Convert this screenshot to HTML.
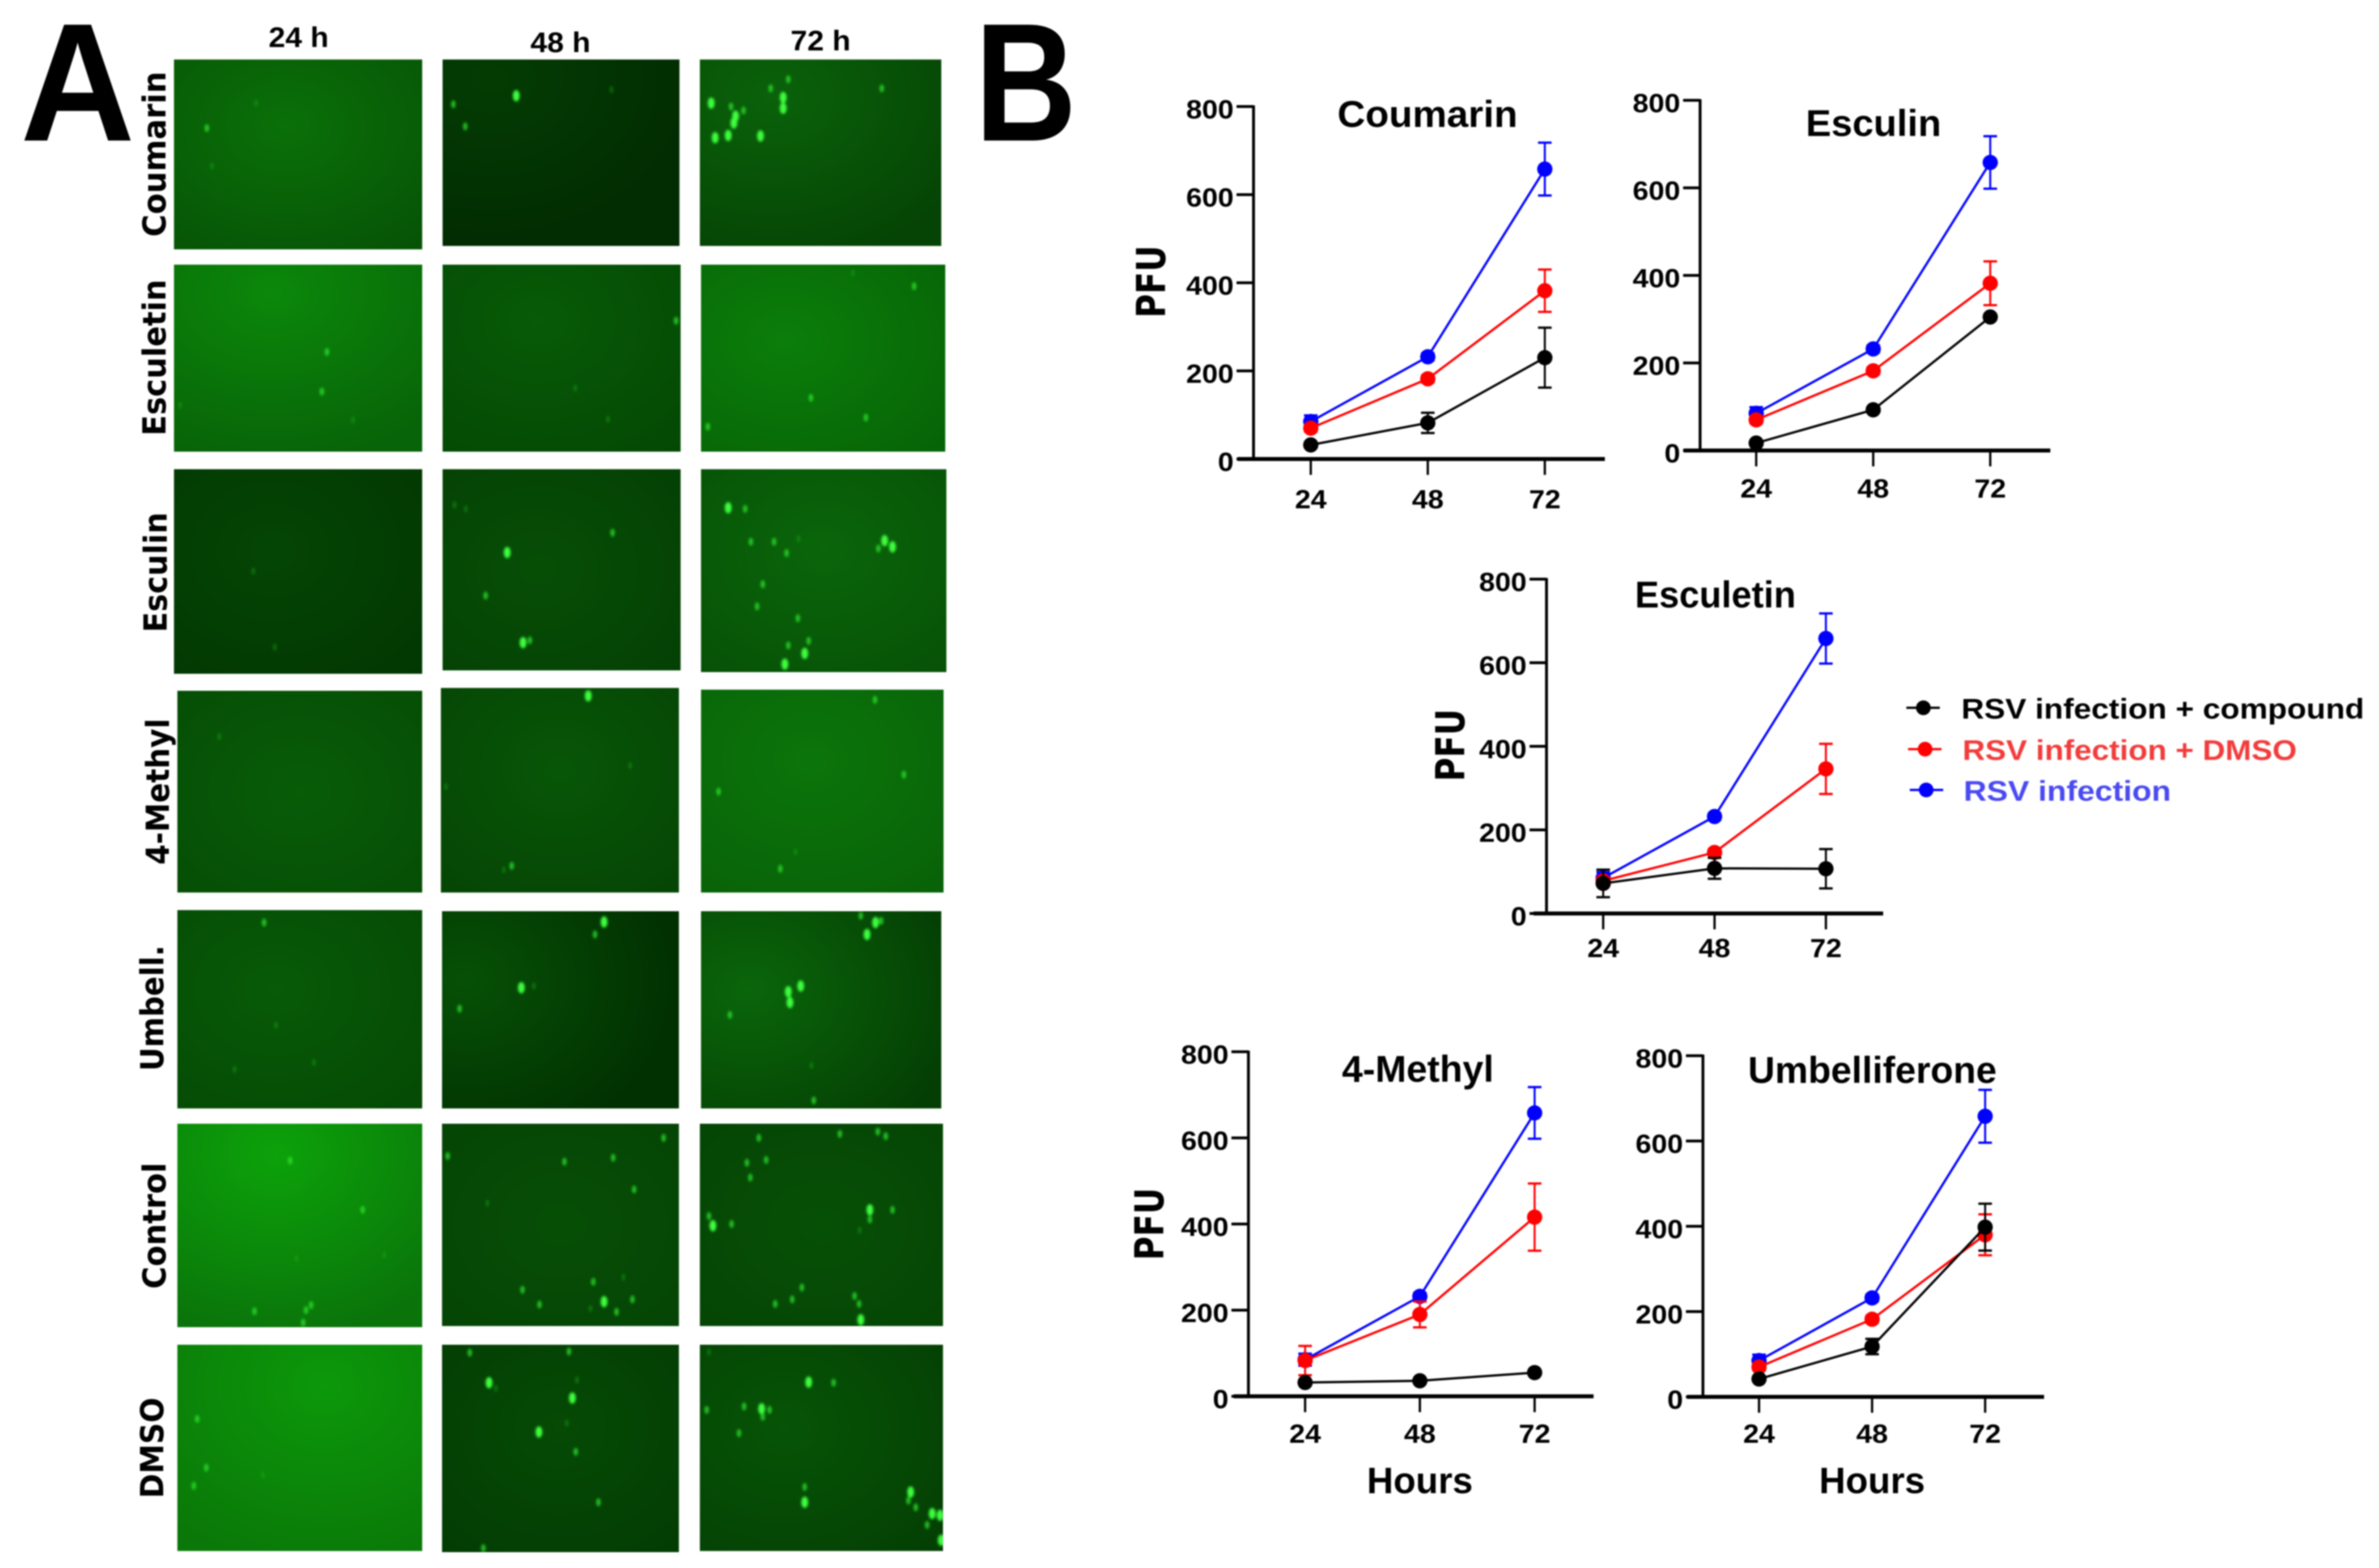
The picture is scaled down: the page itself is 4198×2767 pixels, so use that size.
<!DOCTYPE html>
<html lang="en">
<head>
<meta charset="utf-8">
<title>Coumarin RSV infection figure</title>
<style>
html,body{margin:0;padding:0;background:#fff;}
body{width:4198px;height:2767px;overflow:hidden;}
svg{display:block;filter:blur(1.3px);}
.sans{font-family:"Liberation Sans",sans-serif;font-weight:700;}
.wide{font-family:"DejaVu Sans",sans-serif;font-weight:700;}
</style>
</head>
<body>
<svg id="fig" xmlns="http://www.w3.org/2000/svg" width="4198" height="2767" viewBox="0 0 4198 2767">
<defs id="defs">
<filter id="soft" x="-100%" y="-100%" width="300%" height="300%"><feGaussianBlur stdDeviation="2.2"/></filter>
</defs>
<rect width="4198" height="2767" fill="#fff"/>
<g id="micro"></g>
<g id="charts"></g>

<g>
<text class="sans" x="36" y="248" font-size="297" textLength="202" lengthAdjust="spacingAndGlyphs">A</text>
<text class="sans" x="1720" y="248" font-size="297" textLength="180" lengthAdjust="spacingAndGlyphs">B</text>
</g>

<g>
<text class="sans" x="527" y="83" font-size="50" text-anchor="middle" textLength="106" lengthAdjust="spacingAndGlyphs">24 h</text>
<text class="sans" x="989" y="92" font-size="50" text-anchor="middle" textLength="106" lengthAdjust="spacingAndGlyphs">48 h</text>
<text class="sans" x="1448" y="89" font-size="50" text-anchor="middle" textLength="106" lengthAdjust="spacingAndGlyphs">72 h</text>
</g>

<g>
<text class="wide" transform="translate(292 272) rotate(-90)" font-size="56" text-anchor="middle" textLength="292" lengthAdjust="spacingAndGlyphs">Coumarin</text>
<text class="wide" transform="translate(292 631) rotate(-90)" font-size="56" text-anchor="middle" textLength="276" lengthAdjust="spacingAndGlyphs">Esculetin</text>
<text class="wide" transform="translate(294 1010) rotate(-90)" font-size="56" text-anchor="middle" textLength="212" lengthAdjust="spacingAndGlyphs">Esculin</text>
<text class="wide" transform="translate(298 1397) rotate(-90)" font-size="56" text-anchor="middle" textLength="258" lengthAdjust="spacingAndGlyphs">4-Methyl</text>
<text class="wide" transform="translate(288 1779) rotate(-90)" font-size="56" text-anchor="middle" textLength="222" lengthAdjust="spacingAndGlyphs">Umbell.</text>
<text class="wide" transform="translate(292 2163) rotate(-90)" font-size="56" text-anchor="middle" textLength="223" lengthAdjust="spacingAndGlyphs">Control</text>
<text class="wide" transform="translate(288 2555) rotate(-90)" font-size="56" text-anchor="middle" textLength="178" lengthAdjust="spacingAndGlyphs">DMSO</text>
</g>

<g>
<g>
<line x1="3364" y1="1249" x2="3423" y2="1249" stroke="#000" stroke-width="4"/>
<circle cx="3394" cy="1249" r="13" fill="#000"/>
<text class="sans" x="3461" y="1268" font-size="50" textLength="711" lengthAdjust="spacingAndGlyphs" fill="#000">RSV infection + compound</text>
</g>
<g>
<line x1="3367" y1="1322" x2="3426" y2="1322" stroke="#ff0000" stroke-width="4"/>
<circle cx="3397" cy="1322" r="13" fill="#ff0000"/>
<text class="sans" x="3463" y="1341" font-size="50" textLength="590" lengthAdjust="spacingAndGlyphs" fill="#f23c3c">RSV infection + DMSO</text>
</g>
<g>
<line x1="3370" y1="1394" x2="3429" y2="1394" stroke="#0000ff" stroke-width="4"/>
<circle cx="3399" cy="1394" r="13" fill="#0000ff"/>
<text class="sans" x="3465" y="1413" font-size="50" textLength="366" lengthAdjust="spacingAndGlyphs" fill="#4a4af2">RSV infection</text>
</g>
</g>
</svg>

<script>
// ---- chart data ----
const hours = [24, 48, 72];
const yTicks = [0, 200, 400, 600, 800];

const coumarinCompound = [32, 82, 230];
const coumarinCompoundErr = [6, 23, 68];
const coumarinDmso = [70, 182, 382];
const coumarinDmsoErr = [8, 8, 48];
const coumarinVirus = [85, 232, 658];
const coumarinVirusErr = [14, 8, 60];

const esculinCompound = [17, 93, 305];
const esculinCompoundErr = [4, 6, 6];
const esculinDmso = [70, 182, 382];
const esculinDmsoErr = [8, 8, 50];
const esculinVirus = [85, 232, 658];
const esculinVirusErr = [14, 8, 60];

const esculetinCompound = [72, 108, 107];
const esculetinCompoundErr = [33, 25, 47];
const esculetinDmso = [78, 146, 346];
const esculetinDmsoErr = [8, 8, 60];
const esculetinVirus = [85, 232, 658];
const esculetinVirusErr = [14, 8, 60];

const methylCompound = [32, 36, 55];
const methylCompoundErr = [4, 4, 4];
const methylDmso = [83, 190, 416];
const methylDmsoErr = [34, 30, 78];
const methylVirus = [85, 232, 658];
const methylVirusErr = [14, 8, 60];

const umbelliferoneCompound = [42, 118, 398];
const umbelliferoneCompoundErr = [5, 18, 55];
const umbelliferoneDmso = [70, 182, 380];
const umbelliferoneDmsoErr = [8, 8, 48];
const umbelliferoneVirus = [85, 232, 658];
const umbelliferoneVirusErr = [14, 8, 62];

// ---- chart layout ----
const chartLayouts = [
  {key:'coumarin', title:'Coumarin', titleX:2519, titleY:224, titleW:318, axisX:2212, top:188, base:810, x24:2313, dx:206.5, xStart:2184, xEnd:2832, tickLabelY:897, pfu:[2056,497], hours:false,
   compound:coumarinCompound, compoundErr:coumarinCompoundErr, dmso:coumarinDmso, dmsoErr:coumarinDmsoErr, virus:coumarinVirus, virusErr:coumarinVirusErr},
  {key:'esculin', title:'Esculin', titleX:3306, titleY:240, titleW:239, axisX:3000, top:177, base:795, x24:3099, dx:206.5, xStart:2971, xEnd:3618, tickLabelY:878, pfu:null, hours:false,
   compound:esculinCompound, compoundErr:esculinCompoundErr, dmso:esculinDmso, dmsoErr:esculinDmsoErr, virus:esculinVirus, virusErr:esculinVirusErr},
  {key:'esculetin', title:'Esculetin', titleX:3027, titleY:1072, titleW:284, axisX:2729, top:1022, base:1612, x24:2829, dx:196.5, xStart:2706, xEnd:3323, tickLabelY:1689, pfu:[2584,1315], hours:false,
   compound:esculetinCompound, compoundErr:esculetinCompoundErr, dmso:esculetinDmso, dmsoErr:esculetinDmsoErr, virus:esculetinVirus, virusErr:esculetinVirusErr},
  {key:'methyl', title:'4-Methyl', titleX:2502, titleY:1909, titleW:268, axisX:2203, top:1856, base:2464, x24:2303, dx:202.5, xStart:2177, xEnd:2812, tickLabelY:2546, pfu:[2053,2160], hours:true,
   compound:methylCompound, compoundErr:methylCompoundErr, dmso:methylDmso, dmsoErr:methylDmsoErr, virus:methylVirus, virusErr:methylVirusErr},
  {key:'umbelliferone', title:'Umbelliferone', titleX:3304, titleY:1911, titleW:439, axisX:3005, top:1863, base:2465, x24:3104, dx:199.5, xStart:2977, xEnd:3607, tickLabelY:2546, pfu:null, hours:true,
   compound:umbelliferoneCompound, compoundErr:umbelliferoneCompoundErr, dmso:umbelliferoneDmso, dmsoErr:umbelliferoneDmsoErr, virus:umbelliferoneVirus, virusErr:umbelliferoneVirusErr}
];

const NS = 'http://www.w3.org/2000/svg';
function mk(tag, parent){
  const el = document.createElementNS(NS, tag);
  parent.appendChild(el);
  return el;
}
function line(parent, x1, y1, x2, y2, color, w){
  const l = mk('line', parent);
  l.setAttribute('x1', x1); l.setAttribute('y1', y1);
  l.setAttribute('x2', x2); l.setAttribute('y2', y2);
  l.setAttribute('stroke', color); l.setAttribute('stroke-width', w);
  return l;
}
function label(parent, str, x, y, size, anchor, width){
  const t = mk('text', parent);
  t.setAttribute('class', 'sans');
  t.setAttribute('x', x); t.setAttribute('y', y);
  t.setAttribute('font-size', size);
  t.setAttribute('text-anchor', anchor);
  if (width) { t.setAttribute('textLength', width); t.setAttribute('lengthAdjust', 'spacingAndGlyphs'); }
  t.textContent = str;
  return t;
}

const chartsRoot = document.getElementById('charts');
chartLayouts.forEach(function(c){
  const xScale = h => c.x24 + (h - hours[0]) / 24 * c.dx;
  const yScale = v => c.base - v / 800 * (c.base - c.top);
  const g = mk('g', chartsRoot);
  
  

  const yAxis = line(g, c.axisX, c.top - 2, c.axisX, c.base, '#000', 5);
  
  
  const xAxis = line(g, c.xStart, c.base, c.xEnd, c.base, '#000', 7);
  
  

  yTicks.forEach(function(v){
    const y = yScale(v);
    const tick = line(g, c.axisX - 30, y, c.axisX, y, '#000', 5);
    
    
    const s = String(v);
    const t = label(g, s, c.axisX - 35, y + 21, 46, 'end', s.length * 28);
    
    
  });
  hours.forEach(function(h){
    const x = xScale(h);
    const tick = line(g, x, c.base, x, c.base + 28, '#000', 4);
    
    
    const t = label(g, String(h), x, c.tickLabelY, 46, 'middle', 56);
    
    
  });

  const title = label(g, c.title, c.titleX, c.titleY, 66, 'middle', c.titleW);
  
  

  if (c.pfu) {
    const p = mk('text', g);
    p.setAttribute('class', 'wide');
    p.setAttribute('transform', 'translate(' + c.pfu[0] + ' ' + c.pfu[1] + ') rotate(-90)');
    p.setAttribute('font-size', '70');
    p.setAttribute('text-anchor', 'middle');
    p.setAttribute('textLength', '128');
    p.setAttribute('lengthAdjust', 'spacingAndGlyphs');
    p.textContent = 'PFU';
    
    
  }
  if (c.hours) {
    const hl = label(g, 'Hours', c.xStart + (c.x24 + c.dx - c.xStart), 2635, 65, 'middle', 187);
    
    
  }

  const seriesList = [
    ['virus', c.virus, c.virusErr, '#0000ff'],
    ['dmso', c.dmso, c.dmsoErr, '#ff0000'],
    ['compound', c.compound, c.compoundErr, '#000000']
  ];
  seriesList.forEach(function(s){
    const sg = mk('g', g);
    
    
    const pl = mk('polyline', sg);
    pl.setAttribute('points', hours.map((h, i) => xScale(h) + ',' + yScale(s[1][i])).join(' '));
    pl.setAttribute('fill', 'none');
    pl.setAttribute('stroke', s[3]);
    pl.setAttribute('stroke-width', '4');
    
    
    hours.forEach(function(h, i){
      const x = xScale(h), hi = yScale(s[1][i] + s[2][i]), lo = yScale(s[1][i] - s[2][i]);
      const e = mk('g', sg);
      
      
      line(e, x, hi, x, lo, s[3], 3.5);
      line(e, x - 12, hi, x + 12, hi, s[3], 4);
      line(e, x - 12, lo, x + 12, lo, s[3], 4);
      const pt = mk('circle', sg);
      pt.setAttribute('cx', x);
      pt.setAttribute('cy', yScale(s[1][i]));
      pt.setAttribute('r', '13.5');
      pt.setAttribute('fill', s[3]);
      
      
    });
  });
});

// ---- micrographs ----
const micrographRows = ['coumarin','esculetin','esculin','4-methyl','umbell','control','dmso'];
const micrographCols = ['24h','48h','72h'];
// x0, y0, x1, y1, inner colour, outer colour, gradient centre x, centre y
const micrographs = [
  [[307,105,745,440,'#0a7008','#065006',.45,.35],[781,105,1199,434,'#033c03','#022c02',.2,.1],[1235,105,1661,434,'#0a620a','#054405',.3,.2]],
  [[307,467,745,797,'#0b880a','#086408',.4,.15],[781,467,1201,797,'#075a07','#044804',.4,.3],[1237,467,1668,797,'#0b7e0a','#066206',.35,.4]],
  [[307,828,745,1189,'#044504','#023602',.4,.4],[781,828,1201,1183,'#064e06','#043e04',.4,.5],[1237,828,1670,1186,'#0a660a','#064e06',.5,.4]],
  [[313,1219,745,1575,'#075c07','#064a06',.5,.5],[778,1214,1198,1575,'#075607','#054205',.5,.4],[1237,1217,1665,1575,'#0b750a','#086008',.45,.35]],
  [[313,1606,745,1956,'#075a07','#054805',.4,.4],[780,1608,1198,1956,'#065006','#013001',.1,.35],[1237,1608,1661,1956,'#0a660a','#043e04',.2,.4]],
  [[313,1983,745,2342,'#0ca20a','#0a740a',.4,.15],[780,1983,1198,2340,'#064e06','#054205',.5,.5],[1235,1983,1664,2340,'#065006','#054205',.5,.5]],
  [[313,2373,745,2737,'#0c980a','#0a7808',.6,.2],[780,2373,1198,2739,'#054a05','#033a03',.5,.4],[1235,2373,1664,2737,'#065406','#043e04',.35,.4]]
];
// spot: x, y, brightness level (1 faint, 2 medium, 3 strong)
const spots = [
  [[[365,226,2],[452,182,1],[374,293,1]],
   [[911,169,3],[800,184,2],[821,223,2],[1079,158,1]],
   [[1295,217,3],[1298,205,3],[1285,239,3],[1262,243,3],[1342,240,3],[1255,182,3],[1290,188,2],[1312,195,2],[1382,172,3],[1382,191,3],[1360,156,2],[1391,140,2],[1556,156,2]]],
  [[[577,621,2],[568,691,2],[623,741,1],[318,715,1]],
   [[1193,566,2],[1015,685,1],[1073,740,1]],
   [[1613,505,2],[1431,702,2],[1528,737,2],[1249,753,2],[1505,482,1]]],
  [[[447,1008,1],[485,1142,1]],
   [[802,891,1],[822,898,1],[1081,940,2],[895,975,3],[857,1051,2],[923,1134,3],[935,1130,2]],
   [[1285,896,3],[1315,898,2],[1325,956,2],[1366,956,2],[1388,976,2],[1561,954,3],[1575,965,3],[1550,968,2],[1409,951,1],[1346,1031,2],[1336,1070,2],[1408,1091,2],[1391,1139,2],[1427,1131,2],[1420,1153,3],[1385,1172,3]]],
  [[[387,1300,1]],
   [[1038,1228,3],[1112,1351,1],[787,1388,1],[903,1528,2],[889,1535,1]],
   [[1544,1235,2],[1595,1367,2],[1268,1397,2],[1377,1533,2],[1404,1503,1]]],
  [[[466,1628,2],[487,1809,1],[554,1875,1],[414,1887,1]],
   [[1066,1627,3],[1050,1649,2],[920,1743,3],[942,1740,1],[811,1780,2]],
   [[1545,1628,3],[1530,1649,3],[1519,1616,2],[1555,1625,2],[1391,1750,3],[1394,1769,3],[1413,1740,3],[1288,1791,2],[1436,1942,2],[1432,1880,1]]],
  [[[512,2048,2],[640,2135,2],[523,2221,1],[678,2215,1],[449,2314,2],[540,2312,2],[549,2303,2],[535,2334,2]],
   [[790,2040,2],[996,2050,2],[1082,2043,2],[1171,2008,2],[1119,2099,2],[860,2123,1],[1047,2262,2],[922,2276,2],[952,2302,2],[1066,2297,3],[1116,2293,2],[1088,2315,2],[1042,2309,1],[1100,2254,1]],
   [[1339,2008,2],[1482,2001,2],[1549,1997,2],[1563,2005,2],[1318,2052,2],[1352,2047,2],[1324,2078,2],[1258,2163,3],[1251,2146,2],[1291,2160,2],[1535,2135,3],[1575,2135,2],[1535,2152,2],[1517,2171,1],[1415,2272,2],[1398,2293,2],[1368,2301,2],[1508,2287,2],[1516,2301,2],[1519,2329,3]]],
  [[[348,2504,2],[364,2590,2],[342,2622,2],[464,2603,1]],
   [[829,2387,2],[1004,2385,2],[863,2440,3],[875,2450,1],[1018,2435,1],[1010,2467,3],[951,2527,3],[1000,2511,1],[1016,2562,2],[1056,2651,2],[853,2732,2]],
   [[1251,2386,1],[1427,2439,3],[1471,2440,2],[1247,2488,2],[1344,2486,3],[1358,2488,2],[1346,2500,2],[1313,2482,2],[1304,2529,2],[1420,2624,2],[1420,2651,3],[1607,2633,3],[1603,2648,2],[1616,2660,2],[1645,2671,3],[1659,2674,3],[1636,2691,2],[1661,2718,3]]]
];
const spotStyle = {
  1: ['#1fb01f', 0.38, 3.5, 6.5],
  2: ['#2ee62e', 0.75, 4, 7],
  3: ['#3dff3d', 1, 6, 10]
};

const defs = document.getElementById('defs');
const microRoot = document.getElementById('micro');
micrographs.forEach(function(row, r){
  row.forEach(function(p, c){
    const id = 'm' + r + '_' + c;
    const grad = mk('radialGradient', defs);
    grad.setAttribute('id', 'g' + id);
    grad.setAttribute('cx', p[6]);
    grad.setAttribute('cy', p[7]);
    grad.setAttribute('r', '0.9');
    const s0 = mk('stop', grad);
    s0.setAttribute('offset', '0');
    s0.setAttribute('stop-color', p[4]);
    const s1 = mk('stop', grad);
    s1.setAttribute('offset', '1');
    s1.setAttribute('stop-color', p[5]);
    const clip = mk('clipPath', defs);
    clip.setAttribute('id', 'c' + id);
    const cr = mk('rect', clip);
    cr.setAttribute('x', p[0]); cr.setAttribute('y', p[1]);
    cr.setAttribute('width', p[2] - p[0]); cr.setAttribute('height', p[3] - p[1]);

    const g = mk('g', microRoot);
    
    
    g.setAttribute('clip-path', 'url(#c' + id + ')');
    const bg = mk('rect', g);
    bg.setAttribute('x', p[0]); bg.setAttribute('y', p[1]);
    bg.setAttribute('width', p[2] - p[0]); bg.setAttribute('height', p[3] - p[1]);
    bg.setAttribute('fill', 'url(#g' + id + ')');
    
    
    const sg = mk('g', g);
    sg.setAttribute('filter', 'url(#soft)');
    spots[r][c].forEach(function(d){
      const st = spotStyle[d[2]];
      const e = mk('ellipse', sg);
      e.setAttribute('cx', d[0]); e.setAttribute('cy', d[1]);
      e.setAttribute('rx', st[2]); e.setAttribute('ry', st[3]);
      e.setAttribute('fill', st[0]);
      e.setAttribute('opacity', st[1]);
      
      
    });
  });
});
</script>
</body>
</html>
